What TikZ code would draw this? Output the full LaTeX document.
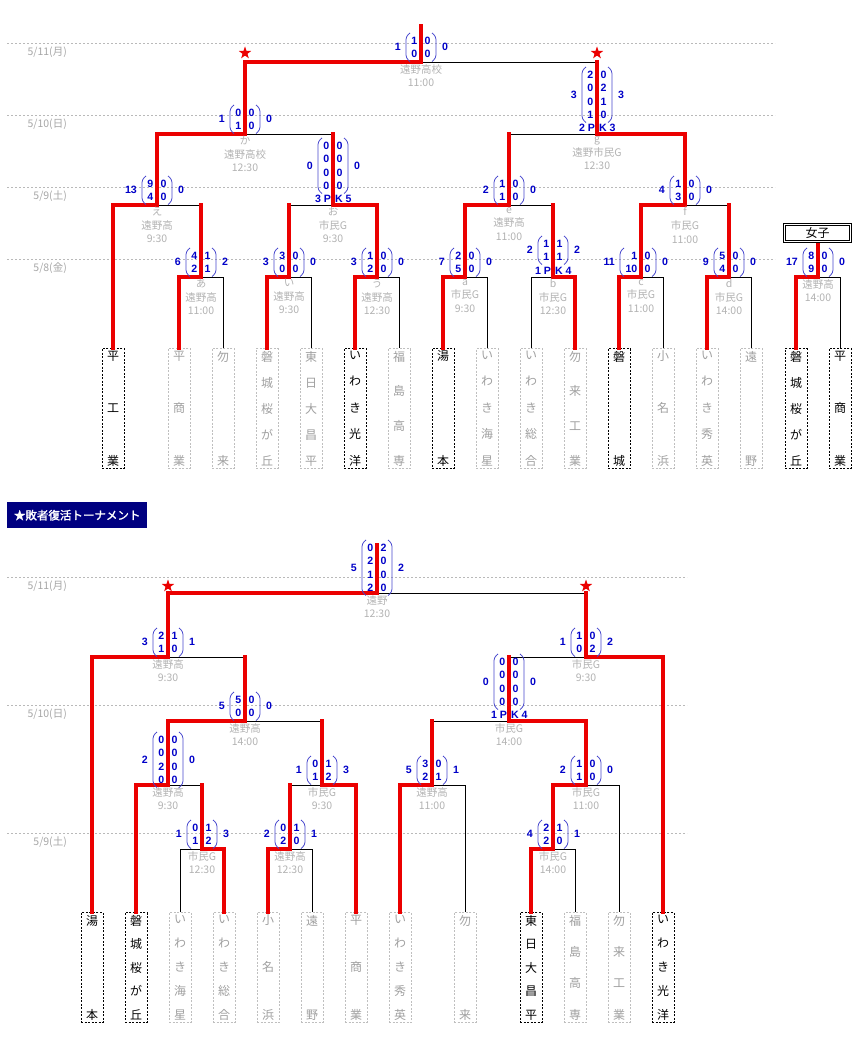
\documentclass[tikz,border=0pt]{standalone}
\usepackage{fontspec}
\setmainfont{Noto Sans CJK JP}
\newfontfamily\scfont{Liberation Sans}
\newfontfamily\bannerfont[FakeBold=1.6]{Noto Sans CJK JP}
\usetikzlibrary{shapes.geometric}

\definecolor{winred}{RGB}{235,0,0}
\definecolor{scblue}{RGB}{0,0,200}
\definecolor{parblue}{RGB}{70,70,205}
\definecolor{bannerblue}{RGB}{0,0,128}

\tikzset{
  win/.style={draw=winred, line width=3.3pt, line cap=rect},
  lose/.style={draw=black, line width=0.9pt},
  dateline/.style={draw=gray!55, line width=0.8pt, dash pattern=on 2pt off 2pt},
  datelab/.style={text=gray!70, anchor=east, inner sep=0pt, font=\fontsize{10.5}{12}\selectfont},
  info/.style={text=gray!60, anchor=north, align=center, inner sep=0pt, font=\fontsize{10.5}{13.7}\selectfont},
  digit/.style={text=scblue, inner sep=0pt, font=\scfont\bfseries\fontsize{10.6}{12}\selectfont},
  paren/.style={draw=parblue, line width=0.8pt, rounded corners=3pt},
  team/.style={draw, dash pattern=on 2pt off 1.5pt, line width=0.8pt, minimum width=22pt,
    inner xsep=0pt, inner ysep=2.5pt, font=\fontsize{12}{14}\selectfont},
  alive/.style={team, draw=black, text=black},
  gone/.style={team, draw=gray!50, text=gray!75},
  topbox/.style={minimum height=119pt},
  lowbox/.style={minimum height=109pt},
  redstar/.style={star, star points=5, star point ratio=2.5, fill=winred, inner sep=0pt, minimum size=13pt},
}

% team name written downwards
\newcommand{\vname}[2]{\parbox[c][#1][s]{14pt}{\centering #2}}
\newcommand{\vv}{\par\vfill}

% score: name, x, y of last row, rows, left total, right total, rows a/b, room left
\newcommand{\score}[8]{%
  \pgfmathsetmacro{\ytop}{#3-13.5*(#4-1)}
  \pgfmathsetmacro{\ymid}{(#3+\ytop)/2}
  \foreach \lft/\rgt [count=\i] in {#7}{
    \pgfmathsetmacro{\yy}{\ytop+13.5*(\i-1)}
    \node[digit, anchor=east] (#1-l\i) at (#2-3.5,\yy) {\lft};
    \node[digit, anchor=west] (#1-r\i) at (#2+3.5,\yy) {\rgt};
  }
  \draw[paren] (#2-11-#8,\ytop-7.5) -- (#2-15-#8,\ytop-4) -- (#2-15-#8,#3+4) -- (#2-11-#8,#3+7.5);
  \draw[paren] (#2+11,\ytop-7.5) -- (#2+15,\ytop-4) -- (#2+15,#3+4) -- (#2+11,#3+7.5);
  \node[digit, anchor=east] (#1-lt) at (#2-20-#8,\ymid) {#5};
  \node[digit, anchor=west] (#1-rt) at (#2+21,\ymid) {#6};
}
% penalty kicks: name, x, y, left, right
\newcommand{\pk}[5]{%
  \node[digit, anchor=east] (#1-pk1) at (#2-1.8,#3) {#4 P};
  \node[digit, anchor=west] (#1-pk2) at (#2+1.8,#3) {K #5};
}

\begin{document}
\begin{tikzpicture}[x=1pt,y=-1pt]
\useasboundingbox (0,0) rectangle (862,1038);

% days
\draw[dateline] (7,43) -- (775,43);
\draw[dateline] (7,115) -- (775,115);
\draw[dateline] (7,187) -- (775,187);
\draw[dateline] (7,259) -- (775,259);
\node[datelab] (d1) at (67,52) {5/11(月)};
\node[datelab] (d2) at (67,124) {5/10(日)};
\node[datelab] (d3) at (67,196) {5/9(土)};
\node[datelab] (d4) at (67,268) {5/8(金)};

\draw[dateline] (7,577) -- (687,577);
\draw[dateline] (7,705) -- (687,705);
\draw[dateline] (7,833) -- (687,833);
\node[datelab] (e1) at (67,586) {5/11(月)};
\node[datelab] (e2) at (67,714) {5/10(日)};
\node[datelab] (e3) at (67,842) {5/9(土)};

% teams
\node[alive, topbox] (t01) at (113,408.5) {\vname{114pt}{平\vv 工\vv 業}};
\node[gone, topbox] (t02) at (179,408.5) {\vname{114pt}{平\vv 商\vv 業}};
\node[gone, topbox] (t03) at (223,408.5) {\vname{114pt}{勿\vv 来}};
\node[gone, topbox] (t04) at (267,408.5) {\vname{114pt}{磐\vv 城\vv 桜\vv が\vv 丘}};
\node[gone, topbox] (t05) at (311,408.5) {\vname{114pt}{東\vv 日\vv 大\vv 昌\vv 平}};
\node[alive, topbox] (t06) at (355,408.5) {\vname{114pt}{い\vv わ\vv き\vv 光\vv 洋}};
\node[gone, topbox] (t07) at (399,408.5) {\vname{114pt}{福\vv 島\vv 高\vv 専}};
\node[alive, topbox] (t08) at (443,408.5) {\vname{114pt}{湯\vv 本}};
\node[gone, topbox] (t09) at (487,408.5) {\vname{114pt}{い\vv わ\vv き\vv 海\vv 星}};
\node[gone, topbox] (t10) at (531,408.5) {\vname{114pt}{い\vv わ\vv き\vv 総\vv 合}};
\node[gone, topbox] (t11) at (575,408.5) {\vname{114pt}{勿\vv 来\vv 工\vv 業}};
\node[alive, topbox] (t12) at (619,408.5) {\vname{114pt}{磐\vv 城}};
\node[gone, topbox] (t13) at (663,408.5) {\vname{114pt}{小\vv 名\vv 浜}};
\node[gone, topbox] (t14) at (707,408.5) {\vname{114pt}{い\vv わ\vv き\vv 秀\vv 英}};
\node[gone, topbox] (t15) at (751,408.5) {\vname{114pt}{遠\vv 野}};
\node[alive, topbox] (t16) at (796,408.5) {\vname{114pt}{磐\vv 城\vv 桜\vv が\vv 丘}};
\node[alive, topbox] (t17) at (840,408.5) {\vname{114pt}{平\vv 商\vv 業}};

\node[alive, lowbox] (b01) at (92,967.5) {\vname{104pt}{湯\vv 本}};
\node[alive, lowbox] (b02) at (136,967.5) {\vname{104pt}{磐\vv 城\vv 桜\vv が\vv 丘}};
\node[gone, lowbox] (b03) at (180,967.5) {\vname{104pt}{い\vv わ\vv き\vv 海\vv 星}};
\node[gone, lowbox] (b04) at (224,967.5) {\vname{104pt}{い\vv わ\vv き\vv 総\vv 合}};
\node[gone, lowbox] (b05) at (268,967.5) {\vname{104pt}{小\vv 名\vv 浜}};
\node[gone, lowbox] (b06) at (312,967.5) {\vname{104pt}{遠\vv 野}};
\node[gone, lowbox] (b07) at (356,967.5) {\vname{104pt}{平\vv 商\vv 業}};
\node[gone, lowbox] (b08) at (400,967.5) {\vname{104pt}{い\vv わ\vv き\vv 秀\vv 英}};
\node[gone, lowbox] (b09) at (465,967.5) {\vname{104pt}{勿\vv 来}};
\node[alive, lowbox] (b10) at (531,967.5) {\vname{104pt}{東\vv 日\vv 大\vv 昌\vv 平}};
\node[gone, lowbox] (b11) at (575,967.5) {\vname{104pt}{福\vv 島\vv 高\vv 専}};
\node[gone, lowbox] (b12) at (619,967.5) {\vname{104pt}{勿\vv 来\vv 工\vv 業}};
\node[alive, lowbox] (b13) at (663,967.5) {\vname{104pt}{い\vv わ\vv き\vv 光\vv 洋}};

% matches
\coordinate (fin) at (421,62);
\coordinate (fin-top) at (421,26);
\coordinate (h-ka) at (245,134);
\coordinate (r-g) at (597,134);
\coordinate (h-e) at (157,205);
\coordinate (h-o) at (333,205);
\coordinate (r-e) at (509,205);
\coordinate (r-f) at (685,205);
\coordinate (h-a) at (201,277);
\coordinate (h-i) at (289,277);
\coordinate (h-u) at (377,277);
\coordinate (r-a) at (465,277);
\coordinate (r-b) at (553,277);
\coordinate (r-c) at (641,277);
\coordinate (r-d) at (729,277);
\coordinate (w) at (818,277);
\coordinate (w-top) at (818,245);

\coordinate (rf) at (377,593);
\coordinate (rf-top) at (377,545);
\coordinate (q1) at (168,657);
\coordinate (q2) at (586,657);
\coordinate (s1) at (245,721);
\coordinate (s2) at (509,721);
\coordinate (u1) at (168,785);
\coordinate (u2) at (322,785);
\coordinate (u3) at (432,785);
\coordinate (u4) at (586,785);
\coordinate (v1) at (202,849);
\coordinate (v2) at (290,849);
\coordinate (v3) at (553,849);

% losing legs
\draw[lose] (t03.north) |- (h-a);
\draw[lose] (t05.north) |- (h-i);
\draw[lose] (t07.north) |- (h-u);
\draw[lose] (t09.north) |- (r-a);
\draw[lose] (t10.north) |- (r-b);
\draw[lose] (t13.north) |- (r-c);
\draw[lose] (t15.north) |- (r-d);
\draw[lose] (t17.north) |- (w);
\draw[lose] (h-a |- h-e) -- (h-e);
\draw[lose] (h-i |- h-o) -- (h-o);
\draw[lose] (h-o |- h-ka) -- (h-ka);
\draw[lose] (r-g |- fin) -- (fin);
\draw[lose] (r-b |- r-e) -- (r-e);
\draw[lose] (r-d |- r-f) -- (r-f);
\draw[lose] (r-e |- r-g) -- (r-g);

\draw[lose] (b03.north) |- (v1);
\draw[lose] (b06.north) |- (v2);
\draw[lose] (b09.north) |- (u3);
\draw[lose] (b11.north) |- (v3);
\draw[lose] (b12.north) |- (u4);
\draw[lose] (s1 |- q1) -- (q1);
\draw[lose] (u2 |- s1) -- (s1);
\draw[lose] (v1 |- u1) -- (u1);
\draw[lose] (v2 |- u2) -- (u2);
\draw[lose] (q2 |- rf) -- (rf);
\draw[lose] (s2 |- q2) -- (q2);
\draw[lose] (u3 |- s2) -- (s2);

% winning legs
\draw[win] (t01.north) |- (h-e);
\draw[win] (t02.north) |- (h-a);
\draw[win] (t04.north) |- (h-i);
\draw[win] (t06.north) |- (h-u);
\draw[win] (h-u) |- (h-o);
\draw[win] (h-e) |- (h-ka);
\draw[win] (h-ka) |- (fin);
\draw[win] (fin) -- (fin-top);
\draw[win] (t08.north) |- (r-a);
\draw[win] (t11.north) |- (r-b);
\draw[win] (r-a) |- (r-e);
\draw[win] (t12.north) |- (r-c);
\draw[win] (t14.north) |- (r-d);
\draw[win] (r-c) |- (r-f);
\draw[win] (r-f) |- (r-g);
\draw[win] (t16.north) |- (w);
\draw[win] (w) -- (w-top);
\draw[win] (h-a) -- (h-a |- h-e);
\draw[win] (h-i) -- (h-i |- h-o);
\draw[win] (h-o) -- (h-o |- h-ka);
\draw[win] (r-g) -- (r-g |- fin);
\draw[win] (r-b) -- (r-b |- r-e);
\draw[win] (r-d) -- (r-d |- r-f);
\draw[win] (r-e) -- (r-e |- r-g);

\draw[win] (b01.north) |- (q1);
\draw[win] (b02.north) |- (u1);
\draw[win] (b04.north) |- (v1);
\draw[win] (b05.north) |- (v2);
\draw[win] (b07.north) |- (u2);
\draw[win] (b08.north) |- (u3);
\draw[win] (b10.north) |- (v3);
\draw[win] (b13.north) |- (q2);
\draw[win] (u1) |- (s1);
\draw[win] (q1) |- (rf);
\draw[win] (u4) |- (s2);
\draw[win] (v3) |- (u4);
\draw[win] (rf) -- (rf-top);
\draw[win] (s1) -- (s1 |- q1);
\draw[win] (u2) -- (u2 |- s1);
\draw[win] (v1) -- (v1 |- u1);
\draw[win] (v2) -- (v2 |- u2);
\draw[win] (q2) -- (q2 |- rf);
\draw[win] (s2) -- (s2 |- q2);
\draw[win] (u3) -- (u3 |- s2);

% stars
\node[redstar] (st1) at (245,53) {};
\node[redstar] (st2) at (597,53) {};
\node[redstar] (st3) at (168,586) {};
\node[redstar] (st4) at (586,586) {};

% women
\node[draw, double, double distance=1.4pt, line width=0.7pt, minimum width=65.5pt, minimum height=16.5pt,
  inner sep=0pt, font=\fontsize{12}{14}\selectfont] (jyoshi) at (817.5,233) {女子};

% banner
\node[fill=bannerblue, text=white, anchor=north west, minimum width=140pt, minimum height=26pt, inner sep=0pt,
  font=\bannerfont\fontsize{11.5}{13}\selectfont] (banner) at (7,502) {★敗者復活トーナメント};

% places and times
\node[info] (fin-i) at (421,64) {遠野高校\\11:00};
\node[info] (h-ka-i) at (245,136) {か\\遠野高校\\12:30};
\node[info] (r-g-i) at (597,136.5) {g\\遠野市民G\\12:30};
\node[info] (h-e-i) at (157,207) {え\\遠野高\\9:30};
\node[info] (h-o-i) at (333,207) {お\\市民G\\9:30};
\node[info] (r-e-i) at (509,207) {e\\遠野高\\11:00};
\node[info] (r-f-i) at (685,207) {f\\市民G\\11:00};
\node[info] (h-a-i) at (201,279) {あ\\遠野高\\11:00};
\node[info] (h-i-i) at (289,279) {い\\遠野高\\9:30};
\node[info] (h-u-i) at (377,279) {う\\遠野高\\12:30};
\node[info] (r-a-i) at (465,279) {a\\市民G\\9:30};
\node[info] (r-b-i) at (553,279) {b\\市民G\\12:30};
\node[info] (r-c-i) at (641,279) {c\\市民G\\11:00};
\node[info] (r-d-i) at (729,279) {d\\市民G\\14:00};
\node[info] (w-i) at (818,279) {遠野高\\14:00};

\node[info] (rf-i) at (377,595) {遠野\\12:30};
\node[info] (q1-i) at (168,659) {遠野高\\9:30};
\node[info] (q2-i) at (586,659) {市民G\\9:30};
\node[info] (s1-i) at (245,723) {遠野高\\14:00};
\node[info] (s2-i) at (509,723) {市民G\\14:00};
\node[info] (u1-i) at (168,787) {遠野高\\9:30};
\node[info] (u2-i) at (322,787) {市民G\\9:30};
\node[info] (u3-i) at (432,787) {遠野高\\11:00};
\node[info] (u4-i) at (586,787) {市民G\\11:00};
\node[info] (v1-i) at (202,851) {市民G\\12:30};
\node[info] (v2-i) at (290,851) {遠野高\\12:30};
\node[info] (v3-i) at (553,851) {市民G\\14:00};

% scores
\score{fin}{421}{54}{2}{1}{0}{1/0,0/0}{0}
\score{h-ka}{245}{126}{2}{1}{0}{0/0,1/0}{0}
\score{r-g}{597}{115}{4}{3}{3}{2/0,0/2,0/1,1/0}{0}
\pk{r-g}{597}{127.5}{2}{3}
\score{h-e}{157}{197}{2}{13}{0}{9/0,4/0}{0}
\score{h-o}{333}{186}{4}{0}{0}{0/0,0/0,0/0,0/0}{0}
\pk{h-o}{333}{198.5}{3}{5}
\score{r-e}{509}{197}{2}{2}{0}{1/0,1/0}{0}
\score{r-f}{685}{197}{2}{4}{0}{1/0,3/0}{0}
\score{h-a}{201}{269}{2}{6}{2}{4/1,2/1}{0}
\score{h-i}{289}{269}{2}{3}{0}{3/0,0/0}{0}
\score{h-u}{377}{269}{2}{3}{0}{1/0,2/0}{0}
\score{r-a}{465}{269}{2}{7}{0}{2/0,5/0}{0}
\score{r-b}{553}{257}{2}{2}{2}{1/1,1/1}{0}
\pk{r-b}{553}{270.5}{1}{4}
\score{r-c}{641}{269}{2}{11}{0}{1/0,10/0}{6}
\score{r-d}{729}{269}{2}{9}{0}{5/0,4/0}{0}
\score{w}{818}{269}{2}{17}{0}{8/0,9/0}{0}

\score{rf}{377}{588}{4}{5}{2}{0/2,2/0,1/0,2/0}{0}
\score{q1}{168}{649}{2}{3}{1}{2/1,1/0}{0}
\score{q2}{586}{649}{2}{1}{2}{1/0,0/2}{0}
\score{s1}{245}{713}{2}{5}{0}{5/0,0/0}{0}
\score{s2}{509}{702}{4}{0}{0}{0/0,0/0,0/0,0/0}{0}
\pk{s2}{509}{714.5}{1}{4}
\score{u1}{168}{780}{4}{2}{0}{0/0,0/0,2/0,0/0}{0}
\score{u2}{322}{777}{2}{1}{3}{0/1,1/2}{0}
\score{u3}{432}{777}{2}{5}{1}{3/0,2/1}{0}
\score{u4}{586}{777}{2}{2}{0}{1/0,1/0}{0}
\score{v1}{202}{841}{2}{1}{3}{0/1,1/2}{0}
\score{v2}{290}{841}{2}{2}{1}{0/1,2/0}{0}
\score{v3}{553}{841}{2}{4}{1}{2/1,2/0}{0}
\end{tikzpicture}
\end{document}
